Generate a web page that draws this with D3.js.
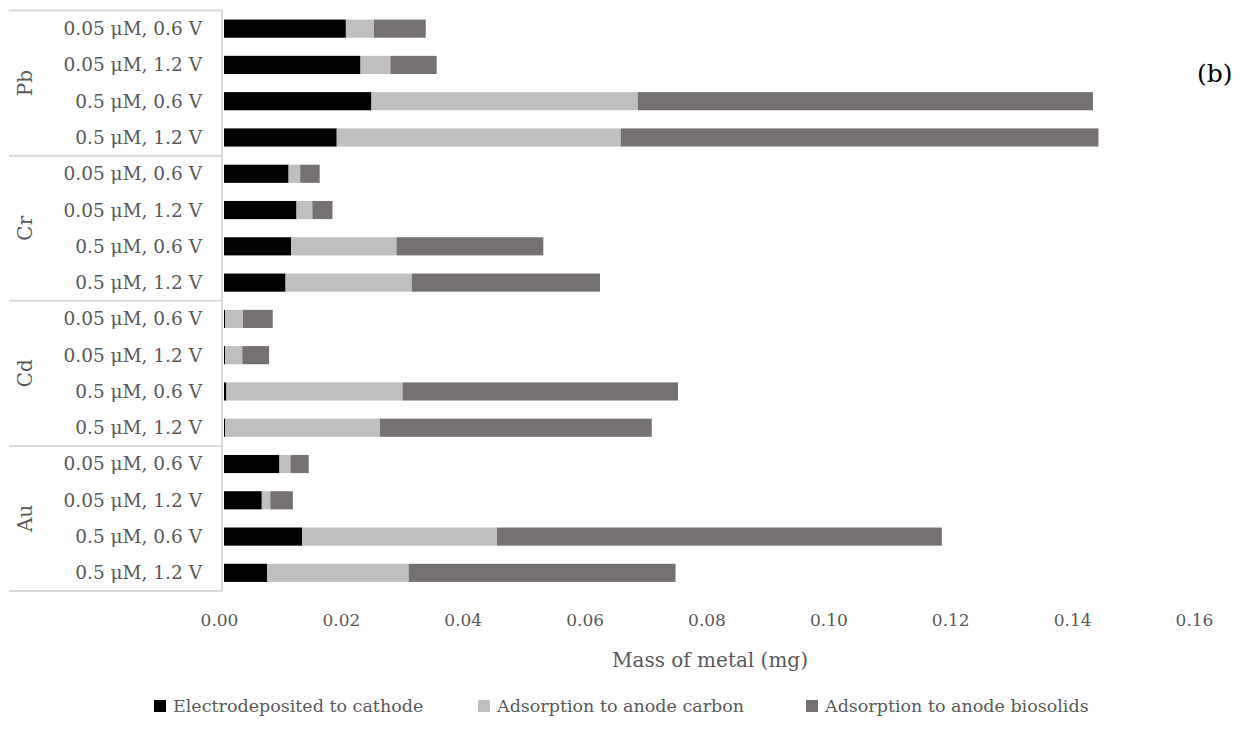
<!DOCTYPE html>
<html>
<head>
<meta charset="utf-8">
<script src="https://cdn.jsdelivr.net/npm/d3@7"></script>
<style>
  html, body { margin: 0; padding: 0; background: #fff; }
  svg { display: block; }
  text { font-family: "DejaVu Serif", serif; }
</style>
</head>
<body>
<svg id="chart" width="1241" height="738"></svg>
<script>
// Metal groups (top to bottom) and the four run conditions within each group
const metals = ["Pb", "Cr", "Cd", "Au"];
const conditions = ["0.05 μM, 0.6 V", "0.05 μM, 1.2 V", "0.5 μM, 0.6 V", "0.5 μM, 1.2 V"];

// Mass of metal (mg) per fate, rows ordered metal by metal, condition by condition
const cathode   = [0.0200, 0.0224, 0.0242, 0.0185,  0.0106, 0.0119, 0.0110, 0.0101,  0.0002, 0.0002, 0.0004, 0.0002,  0.0091, 0.0062, 0.0128, 0.0071];
const carbon    = [0.0046, 0.0049, 0.0437, 0.0466,  0.0019, 0.0026, 0.0173, 0.0207,  0.0029, 0.0028, 0.0289, 0.0254,  0.0018, 0.0014, 0.0320, 0.0232];
const biosolids = [0.0085, 0.0076, 0.0747, 0.0784,  0.0032, 0.0033, 0.0241, 0.0309,  0.0049, 0.0044, 0.0452, 0.0446,  0.0030, 0.0037, 0.0730, 0.0438];

const seriesNames  = ["Electrodeposited to cathode", "Adsorption to anode carbon", "Adsorption to anode biosolids"];
const seriesKeys   = ["cathode", "carbon", "biosolids"];
const seriesColors = ["#000000", "#bfbfbf", "#767171"];

const xTicks = [0, 0.02, 0.04, 0.06, 0.08, 0.10, 0.12, 0.14, 0.16];

// Build row records
const rows = [];
metals.forEach((m, gi) => {
  conditions.forEach((c, ci) => {
    const i = gi * conditions.length + ci;
    rows.push({ id: m + "|" + c, metal: m, cond: c, cathode: cathode[i], carbon: carbon[i], biosolids: biosolids[i] });
  });
});

const svg = d3.select("#chart");

const x = d3.scaleLinear().domain([0, 0.16]).range([224, 1199]);
const y = d3.scaleBand()
  .domain(rows.map(d => d.id))
  .range([10.5, 591])
  .paddingInner(0.5)
  .paddingOuter(0.25);

const stacked = d3.stack().keys(seriesKeys)(rows);

// Stacked bars
svg.append("g")
  .selectAll("g")
  .data(stacked)
  .join("g")
  .attr("fill", (d, i) => seriesColors[i])
  .selectAll("rect")
  .data(d => d)
  .join("rect")
  .attr("x", d => x(d[0]))
  .attr("width", d => Math.max(0, x(d[1]) - x(d[0])))
  .attr("y", d => y(d.data.id))
  .attr("height", y.bandwidth());

// Category axis frame: vertical line and group separators
const axisColor = "#d9d9d9";
const gridG = svg.append("g").attr("stroke", axisColor).attr("stroke-width", 2);
gridG.append("line")
  .attr("x1", 222).attr("x2", 222)
  .attr("y1", y.range()[0]).attr("y2", y.range()[1]);

const groupStep = y.step() * conditions.length;
const groupEdges = d3.range(metals.length + 1).map(k => y.range()[0] + k * groupStep);
gridG.selectAll("line.sep")
  .data(groupEdges)
  .join("line")
  .attr("class", "sep")
  .attr("x1", 9).attr("x2", 222)
  .attr("y1", d => d).attr("y2", d => d);

// Condition labels
svg.append("g")
  .selectAll("text")
  .data(rows)
  .join("text")
  .attr("x", 202)
  .attr("y", d => y(d.id) + y.bandwidth() / 2)
  .attr("dy", "0.35em")
  .attr("text-anchor", "end")
  .attr("font-size", 18.5)
  .attr("fill", "#595959")
  .text(d => d.cond);

// Metal group labels (rotated)
svg.append("g")
  .selectAll("text")
  .data(metals)
  .join("text")
  .attr("transform", (d, i) => `translate(25,${groupEdges[i] + groupStep / 2}) rotate(-90)`)
  .attr("dy", "0.35em")
  .attr("text-anchor", "middle")
  .attr("font-size", 20)
  .attr("fill", "#595959")
  .text(d => d);

// Value axis
const xAxis = d3.axisBottom(x)
  .tickValues(xTicks)
  .tickFormat(d3.format(".2f"))
  .tickSize(0)
  .tickPadding(0);

const xg = svg.append("g")
  .attr("transform", "translate(-5,620)")
  .call(xAxis);
xg.select(".domain").remove();
xg.selectAll("text")
  .attr("dy", "0.35em")
  .attr("y", 0)
  .attr("font-family", "DejaVu Serif, serif")
  .attr("font-size", 17)
  .attr("fill", "#595959");

// Axis title
svg.append("text")
  .attr("x", 710)
  .attr("y", 660)
  .attr("dy", "0.35em")
  .attr("text-anchor", "middle")
  .attr("font-size", 20)
  .attr("fill", "#595959")
  .text("Mass of metal (mg)");

// Legend
const legendX = [154, 478, 806];
const legend = svg.append("g")
  .selectAll("g")
  .data(seriesNames)
  .join("g")
  .attr("transform", (d, i) => `translate(${legendX[i]},706)`);
legend.append("rect")
  .attr("x", 0).attr("y", -6)
  .attr("width", 12).attr("height", 12)
  .attr("fill", (d, i) => seriesColors[i]);
legend.append("text")
  .attr("x", 19)
  .attr("dy", "0.35em")
  .attr("font-size", 17.5)
  .attr("fill", "#595959")
  .text(d => d);

// Panel tag
svg.append("text")
  .attr("x", 1197)
  .attr("y", 82)
  .attr("font-family", "Liberation Serif, serif")
  .attr("font-size", 25)
  .attr("fill", "#000")
  .text("(b)");
</script>
</body>
</html>
